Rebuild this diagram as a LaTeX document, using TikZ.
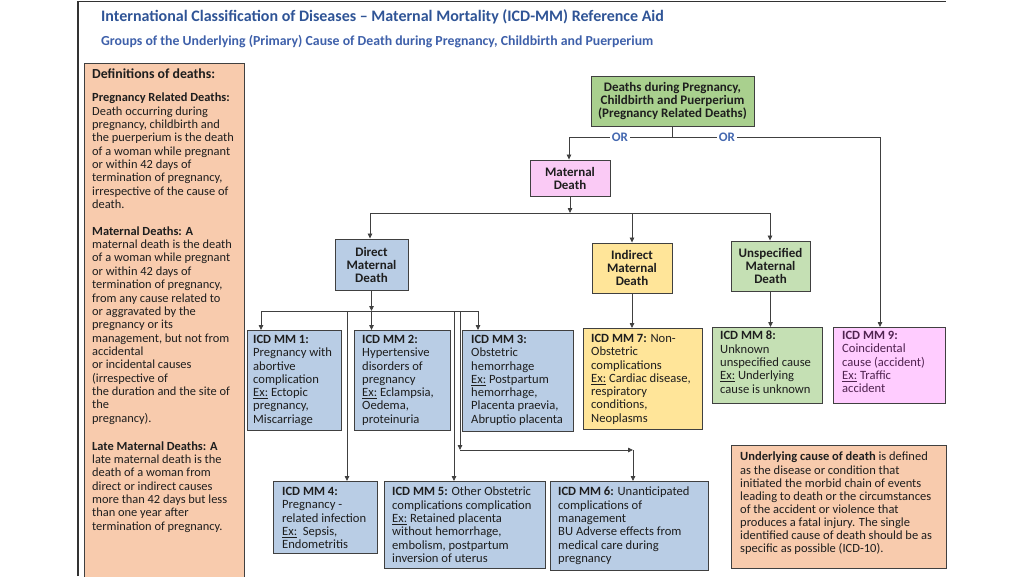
\documentclass[tikz,border=0pt]{standalone}
\usepackage{fontspec}
\setmainfont{Carlito}
\usepackage{tikz}
\usetikzlibrary{arrows.meta, positioning, calc}
\definecolor{titleblue}{RGB}{47,84,150}
\definecolor{subblue}{RGB}{62,96,170}
\definecolor{orblue}{RGB}{68,104,176}
\definecolor{framegray}{RGB}{50,50,50}
\definecolor{edgegray}{RGB}{64,64,64}
\definecolor{inkgray}{RGB}{30,30,30}
\definecolor{defpeach}{RGB}{248,203,173}
\definecolor{icdblue}{RGB}{185,205,229}
\definecolor{indirectyellow}{RGB}{255,229,153}
\definecolor{relgreen}{RGB}{169,208,142}
\definecolor{unspecgreen}{RGB}{197,224,180}
\definecolor{maternalpink}{RGB}{250,202,245}
\definecolor{coincpink}{RGB}{255,204,255}
\definecolor{coincink}{RGB}{80,35,80}

\begin{document}
\begin{tikzpicture}[
  x=1pt, y=-1pt,
  link/.style={draw=edgegray, line width=0.8pt},
  arr/.style={link, -{Triangle[length=5pt, width=4.5pt]}},
  box/.style={draw=edgegray, line width=0.9pt, anchor=north west, inner sep=0pt},
  head/.style={draw=edgegray, line width=0.9pt, align=center, inner sep=0pt, text=inkgray,
    font=\fontsize{13}{13}\selectfont\bfseries},
  body/.style={anchor=north west, align=left, inner sep=0pt, text=inkgray,
    font=\fontsize{12.6}{13.3}\selectfont},
  ortext/.style={fill=white, text=orblue, inner sep=1.5pt, font=\fontsize{13}{13}\selectfont\bfseries}
]
  \useasboundingbox (0,0) rectangle (1024,576);
  % page frame
  \draw[framegray, line width=1.4pt] (78,576) -- (78,1.5) -- (946,1.5);
  \node[anchor=west, inner sep=0pt, text=titleblue, font=\fontsize{16}{18}\selectfont\bfseries] (title)
    at (101,17) {International Classification of Diseases -- Maternal Mortality (ICD-MM) Reference Aid};
  \node[anchor=west, inner sep=0pt, text=subblue, font=\fontsize{13.8}{15}\selectfont\bfseries] (subtitle)
    at (101,42) {Groups of the Underlying (Primary) Cause of Death during Pregnancy, Childbirth and Puerperium};

  % boxes
  \foreach \n/\x/\y/\w/\h/\c in {defs/84/63/160/520/defpeach, mm1/247/330/94/100/icdblue,
      mm2/354/330/96/100/icdblue, mm3/462/330/111/101/icdblue, mm7/583/328/119/101/indirectyellow,
      mm8/712/327/110/76/unspecgreen, mm9/833/327/112/76/coincpink, mm4/273/481/104/72/icdblue,
      mm5/384/481/161/87/icdblue, mm6/550/481/158/89/icdblue, note/731/445/215/123/defpeach} {
    \node[box, fill=\c, minimum width=\w pt, minimum height=\h pt] (\n) at (\x,\y) {};
  }

  \node[head, fill=relgreen, minimum width=163pt, minimum height=50pt] (rel) at (672.5,101)
    {Deaths during Pregnancy,\\Childbirth and Puerperium\\(Pregnancy Related Deaths)};
  \node[head, fill=maternalpink, minimum width=80pt, minimum height=36pt] (maternal) at (570,178)
    {Maternal\\Death};
  \node[head, fill=icdblue, minimum width=73pt, minimum height=51pt] (direct) at (371.5,264.5)
    {Direct\\Maternal\\Death};
  \node[head, fill=indirectyellow, minimum width=80pt, minimum height=50pt] (indirect) at (632,268)
    {Indirect\\Maternal\\Death};
  \node[head, fill=unspecgreen, minimum width=79pt, minimum height=50pt] (unspec) at (770.5,266)
    {Unspecified\\Maternal\\Death};

  % texts of the boxes
  \node[body, font=\fontsize{12.4}{13.35}\selectfont] (defs-t) at ([xshift=8pt, yshift=-6pt]defs.north west)
    {{\fontsize{13.8}{13.35}\selectfont\bfseries Definitions of deaths:}\\[9.5pt]
     \textbf{Pregnancy Related Deaths:}\\Death occurring during\\pregnancy, childbirth and\\
     the puerperium is the death\\of a woman while pregnant\\or within 42 days of\\
     termination of pregnancy,\\irrespective of the cause of\\death.\\[13.35pt]
     \textbf{Maternal Deaths: A}\\maternal death is the death\\of a woman while pregnant\\
     or within 42 days of\\termination of pregnancy,\\from any cause related to\\
     or aggravated by the\\pregnancy or its\\management, but not from\\accidental\\
     or incidental causes\\(irrespective of\\the duration and the site of\\the\\pregnancy).\\[14.5pt]
     \textbf{Late Maternal Deaths: A}\\late maternal death is the\\death of a woman from\\
     direct or indirect causes\\more than 42 days but less\\than one year after\\
     termination of pregnancy.};
  \node[body] (mm1-t) at ([xshift=6pt, yshift=-5pt]mm1.north west)
    {\textbf{ICD MM 1:}\\Pregnancy with\\abortive\\complication\\\underline{Ex:} Ectopic\\
     pregnancy,\\Miscarriage};
  \node[body] (mm2-t) at ([xshift=8pt, yshift=-5pt]mm2.north west)
    {\textbf{ICD MM 2:}\\Hypertensive\\disorders of\\pregnancy\\\underline{Ex:} Eclampsia,\\
     Oedema,\\proteinuria};
  \node[body] (mm3-t) at ([xshift=9pt, yshift=-5pt]mm3.north west)
    {\textbf{ICD MM 3:}\\Obstetric\\hemorrhage\\\underline{Ex:} Postpartum\\hemorrhage,\\
     Placenta praevia,\\Abruptio placenta};
  \node[body] (mm7-t) at ([xshift=8pt, yshift=-6pt]mm7.north west)
    {\textbf{ICD MM 7:} Non-\\Obstetric\\complications\\\underline{Ex:} Cardiac disease,\\
     respiratory\\conditions,\\Neoplasms};
  \node[body] (mm8-t) at ([xshift=8pt, yshift=-4pt]mm8.north west)
    {\textbf{ICD MM 8:}\\Unknown\\unspecified cause\\\underline{Ex:} Underlying\\cause is unknown};
  \node[body, text=coincink] (mm9-t) at ([xshift=9pt, yshift=-4pt]mm9.north west)
    {\textbf{ICD MM 9:}\\Coincidental\\cause (accident)\\\underline{Ex:} Traffic\\accident};
  \node[body] (mm4-t) at ([xshift=9pt, yshift=-6pt]mm4.north west)
    {\textbf{ICD MM 4:}\\Pregnancy -\\related infection\\\underline{Ex:}\ \ Sepsis,\\Endometritis};
  \node[body] (mm5-t) at ([xshift=8pt, yshift=-6pt]mm5.north west)
    {\textbf{ICD MM 5:} Other Obstetric\\complications complication\\\underline{Ex:} Retained placenta\\
     without hemorrhage,\\embolism, postpartum\\inversion of uterus};
  \node[body] (mm6-t) at ([xshift=8pt, yshift=-6pt]mm6.north west)
    {\textbf{ICD MM 6:} Unanticipated\\complications of\\management\\BU Adverse effects from\\
     medical care during\\pregnancy};
  \node[body, font=\fontsize{12.5}{13.1}\selectfont] (note-t) at ([xshift=9pt, yshift=-7pt]note.north west)
    {\textbf{Underlying cause of death} is defined\\as the disease or condition that\\
     initiated the morbid chain of events\\leading to death or the circumstances\\
     of the accident or violence that\\produces a fatal injury. The single\\
     identified cause of death should be as\\specific as possible (ICD-10).};

  % connectors
  \coordinate (orL) at (569,137);
  \coordinate (orR) at (880,137);
  \draw[link] (rel.south) -- (rel.south |- orL);
  \draw[link] (orL) -- node[ortext, pos=0.164] (or1) {OR} node[ortext, pos=0.508] (or2) {OR} (orR);
  \draw[arr] (orL) -- (orL |- maternal.north);
  \draw[arr] (orR) -- (orR |- mm9.north);

  \coordinate (mdL) at (370,213);
  \coordinate (mdR) at (770,213);
  \draw[arr] (maternal.south) -- (maternal.south |- mdL);
  \draw[link] (mdL) -- (mdR);
  \draw[arr] (mdL) -- (mdL |- direct.north);
  \draw[arr] (indirect.north |- mdL) -- (indirect.north);
  \draw[arr] (mdR) -- (mdR |- unspec.north);

  \coordinate (dmL) at (261,311);
  \coordinate (dmR) at (478,311);
  \draw[arr] (direct.south) -- (direct.south |- dmL);
  \draw[link] (dmL) -- (dmR);
  \draw[arr] (dmL) -- (dmL |- mm1.north);
  \draw[arr] (direct.south |- dmL) -- (direct.south |- mm2.north);
  \draw[arr] (dmR) -- (dmR |- mm3.north);
  \coordinate (to4) at (347,311);
  \coordinate (to5) at (454,311);
  \coordinate (to6) at (460,311);
  \coordinate (bend6) at (460,450);
  \coordinate (turn6) at (633,450);
  \draw[arr] (to4) -- (to4 |- mm4.north);
  \draw[arr] (to5) -- (to5 |- mm5.north);
  \draw[arr] (to6) -- (bend6);
  \draw[arr] (bend6) -- (turn6);
  \draw[arr] (turn6) -- (turn6 |- mm6.north);

  \draw[arr] (indirect.south) -- (indirect.south |- mm7.north);
  \draw[arr] (unspec.south) -- (unspec.south |- mm8.north);
\end{tikzpicture}
\end{document}
